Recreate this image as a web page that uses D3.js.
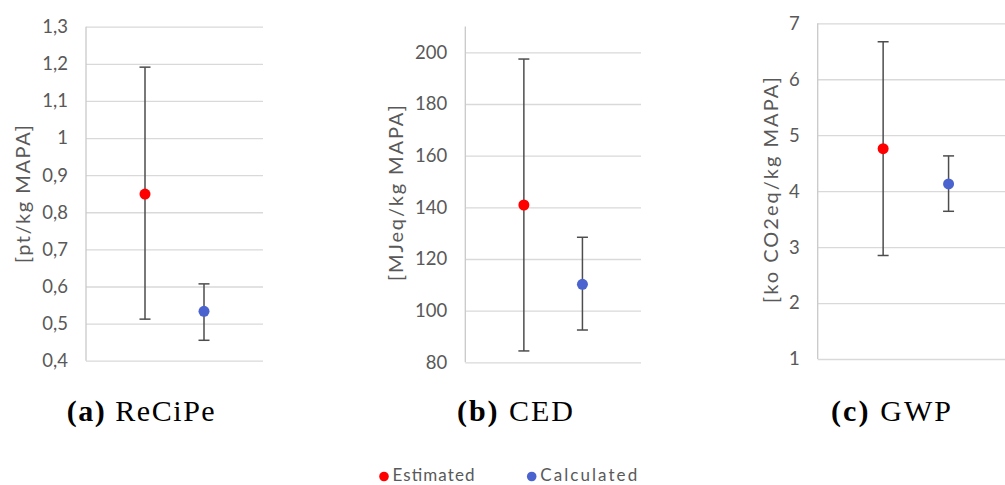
<!DOCTYPE html>
<html lang="en">
<head>
<meta charset="utf-8">
<title>Impact comparison</title>
<script src="https://d3js.org/d3.v7.min.js"></script>
<style>
  body { margin: 0; background: #fff; }
  .tick text { font-family: "Lato", "Open Sans", sans-serif; fill: #595959; }
  .grid line { stroke: #d9d9d9; stroke-width: 1.3; }
  .grid .domain { display: none; }
</style>
</head>
<body>
<div id="chart"></div>
<script>

// series, one entry per category
var categories = ["Estimated", "Calculated"];
var colors = ["#ff0000", "#4b63ce"];

var recipeMean = [0.849, 0.533];
var recipeLow  = [0.512, 0.455];
var recipeHigh = [1.191, 0.607];

var cedMean = [140.9, 110.2];
var cedLow  = [84.4, 92.5];
var cedHigh = [197.4, 128.4];

var gwpMean = [4.76, 4.13];
var gwpLow  = [2.85, 3.64];
var gwpHigh = [6.67, 4.63];

// tick values per panel
var recipeTicks = [0.4, 0.5, 0.6, 0.7, 0.8, 0.9, 1.0, 1.1, 1.2, 1.3];
var cedTicks = [80, 100, 120, 140, 160, 180, 200];
var gwpTicks = [1, 2, 3, 4, 5, 6, 7];

var width = 1005, height = 485;

var svg = d3.select("#chart")
  .append("svg")
  .attr("width", width)
  .attr("height", height);

// panel layout (pixels)
var panels = [
  { mean: recipeMean, low: recipeLow, high: recipeHigh, ticks: recipeTicks,
    domain: [0.4, 1.3], x0: 86, x1: 263, yTop: 26.7, yBot: 360.7,
    title: "[pt/kg MAPA]", titleX: 30, titleY: 194, titleLen: 138,
    tag: "(a)", name: "ReCiPe", capX: 66.7, capLen: 148 },
  { mean: cedMean, low: cedLow, high: cedHigh, ticks: cedTicks,
    domain: [80, 210], x0: 465.3, x1: 641, yTop: 26.5, yBot: 362.3,
    title: "[MJeq/kg MAPA]", titleX: 403, titleY: 193, titleLen: 176,
    tag: "(b)", name: "CED", capX: 457, capLen: 116 },
  { mean: gwpMean, low: gwpLow, high: gwpHigh, ticks: gwpTicks,
    domain: [1, 7], x0: 817.7, x1: 1014, yTop: 23.3, yBot: 359,
    title: "[ko CO2eq/kg MAPA]", titleX: 778, titleY: 190, titleLen: 226,
    tag: "(c)", name: "GWP", capX: 831, capLen: 120 }
];

var fmt = function(d) { return String(+d.toFixed(2)).replace(".", ","); };

panels.forEach(function(p) {
  var x = d3.scaleLinear().domain([0, 3]).range([p.x0, p.x1]);
  var y = d3.scaleLinear().domain(p.domain).range([p.yBot, p.yTop]);

  var g = svg.append("g");

  // gridlines + tick labels
  var ax = g.append("g")
    .attr("class", "grid")
    .attr("transform", "translate(" + p.x0 + ",0)")
    .call(d3.axisLeft(y)
      .tickValues(p.ticks)
      .tickFormat(fmt)
      .tickSize(-(p.x1 - p.x0))
      .tickPadding(18));
  ax.selectAll("text").style("font-size", "18.5px");

  // left axis line
  g.append("line")
    .attr("x1", p.x0).attr("x2", p.x0)
    .attr("y1", p.yTop).attr("y2", p.yBot)
    .attr("stroke", "#c9c9c9")
    .attr("stroke-width", 1.3);

  // error bars
  var bars = g.selectAll(".err")
    .data(categories)
    .enter()
    .append("g");
  bars.append("line")
    .attr("x1", function(d, i) { return x(i + 1); })
    .attr("x2", function(d, i) { return x(i + 1); })
    .attr("y1", function(d, i) { return y(p.low[i]); })
    .attr("y2", function(d, i) { return y(p.high[i]); })
    .attr("stroke", "#4d4d4d").attr("stroke-width", 1.5);
  [p.low, p.high].forEach(function(arr) {
    bars.append("line")
      .attr("x1", function(d, i) { return x(i + 1) - 5.5; })
      .attr("x2", function(d, i) { return x(i + 1) + 5.5; })
      .attr("y1", function(d, i) { return y(arr[i]); })
      .attr("y2", function(d, i) { return y(arr[i]); })
      .attr("stroke", "#4d4d4d").attr("stroke-width", 1.5);
  });
  bars.append("circle")
    .attr("cx", function(d, i) { return x(i + 1); })
    .attr("cy", function(d, i) { return y(p.mean[i]); })
    .attr("r", 5.5)
    .attr("fill", function(d, i) { return colors[i]; });

  // axis title
  g.append("text")
    .attr("transform", "translate(" + p.titleX + "," + p.titleY + ") rotate(-90)")
    .attr("text-anchor", "middle")
    .attr("textLength", p.titleLen)
    .attr("lengthAdjust", "spacing")
    .style("font-family", "Lato, 'Open Sans', sans-serif")
    .style("font-size", "20px")
    .style("fill", "#595959")
    .text(p.title);

  // caption
  var cap = svg.append("text")
    .attr("x", p.capX)
    .attr("y", 421)
    .attr("textLength", p.capLen)
    .attr("lengthAdjust", "spacing")
    .style("font-family", "'Liberation Serif', serif")
    .style("font-size", "30px")
    .style("fill", "#000");
  cap.append("tspan").style("font-weight", "bold").text(p.tag);
  cap.append("tspan").text(" " + p.name);
});

// legend
var legendX = [384, 531.7], legendLen = [82, 97];
var legend = svg.append("g")
  .selectAll("g")
  .data(categories)
  .enter()
  .append("g");
legend.append("circle")
  .attr("cx", function(d, i) { return legendX[i]; })
  .attr("cy", 476.5)
  .attr("r", 4.8)
  .attr("fill", function(d, i) { return colors[i]; });
legend.append("text")
  .attr("x", function(d, i) { return legendX[i] + 8.5; })
  .attr("y", 481)
  .attr("textLength", function(d, i) { return legendLen[i]; })
  .attr("lengthAdjust", "spacing")
  .style("font-family", "Lato, 'Open Sans', sans-serif")
  .style("font-size", "17px")
  .style("fill", "#595959")
  .text(function(d) { return d; });

</script>
</body>
</html>
